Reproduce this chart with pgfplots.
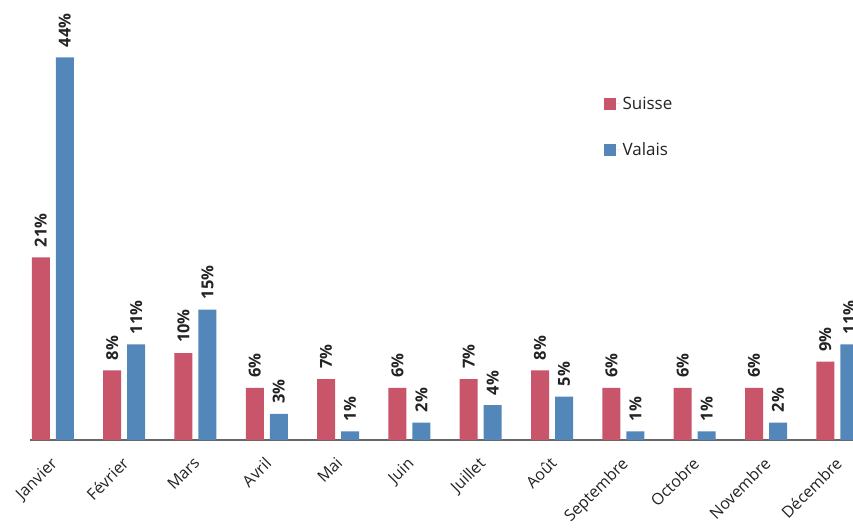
\documentclass[border=0pt]{standalone}
\usepackage{pgfplots}
\pgfplotsset{compat=1.18}
\usepackage{fontspec}
\setmainfont{Open Sans}
\definecolor{suisse}{RGB}{200,85,105}
\definecolor{valais}{RGB}{83,134,185}
\definecolor{txt}{RGB}{35,35,35}
\begin{document}
\begin{tikzpicture}
\useasboundingbox (-30pt,-87pt) rectangle (823pt,440pt);
\begin{axis}[
  at={(0pt,0pt)}, anchor=south west,
  scale only axis, width=823pt, height=440pt,
  xmin=-0.32, xmax=11.22, ymin=0, ymax=50.6,
  ybar=6pt, bar width=18pt,
  axis x line=bottom, axis y line=none,
  x axis line style={-, draw=black!60, line width=1.5pt},
  ytick=\empty,
  xtick={0,...,11},
  xticklabels={Janvier,Février,Mars,Avril,Mai,Juin,Juillet,Août,Septembre,Octobre,Novembre,Décembre},
  major tick length=0pt,
  xticklabel style={xshift=-3pt, yshift=-16pt, rotate=45, anchor=north east, font=\fontsize{16}{18}\selectfont, text=txt, inner sep=0pt},
  /pgf/number format/assume math mode=true,
  nodes near coords={\pgfmathprintnumber{\pgfplotspointmeta}\%},
  nodes near coords style={rotate=90, anchor=west, font=\fontsize{16.5}{18}\selectfont\bfseries, text=txt, inner sep=0pt, xshift=10pt},
  legend style={draw=none, fill=none, at={(0.693,0.79)}, anchor=north west, font=\fontsize{17}{20}\selectfont, text=txt, row sep=28pt},
  legend cell align=left,
  legend image code/.code={\path (0pt,0pt) -- (17pt,0pt); \fill[#1] (0pt,-6pt) rectangle (12pt,6pt);},
]
\addplot[fill=suisse, draw=none] coordinates {(0,21) (1,8) (2,10) (3,6) (4,7) (5,6) (6,7) (7,8) (8,6) (9,6) (10,6) (11,9)};
\addplot[fill=valais, draw=none] coordinates {(0,44) (1,11) (2,15) (3,3) (4,1) (5,2) (6,4) (7,5) (8,1) (9,1) (10,2) (11,11)};
\legend{Suisse,Valais}
\end{axis}
\end{tikzpicture}
\end{document}
